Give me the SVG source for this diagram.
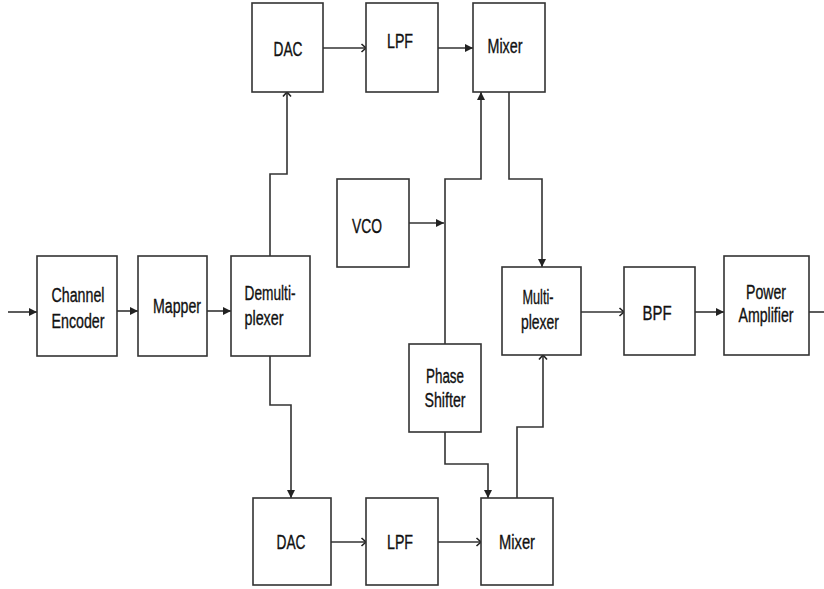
<svg xmlns="http://www.w3.org/2000/svg" width="824" height="589" viewBox="0 0 824 589">
<style>
.box{fill:#fff;stroke:#333;stroke-width:1.6}
.lbl{font-family:"Liberation Sans",Arial,sans-serif;font-size:20px;fill:#111;stroke:#111;stroke-width:0.35;text-anchor:middle}
.w{fill:none;stroke:#333;stroke-width:1.6}
</style>
<defs>
<marker id="af" markerUnits="userSpaceOnUse" markerWidth="10" markerHeight="10" refX="9" refY="5" orient="auto">
<path d="M1,1 L9,5 L1,9 Z" fill="#222"/>
</marker>
<marker id="ao" markerUnits="userSpaceOnUse" markerWidth="10" markerHeight="10" refX="8.5" refY="5" orient="auto">
<path d="M4,1 L8.5,5 L4,9" fill="none" stroke="#222" stroke-width="1.6"/>
</marker>
</defs>
<rect width="824" height="589" fill="#fff"/>
<g id="connectors">
<path class="w" d="M8,312 H37" marker-end="url(#af)"/>
<path class="w" d="M117,311 H138" marker-end="url(#af)"/>
<path class="w" d="M207,311 H231" marker-end="url(#af)"/>
<path class="w" d="M270,256 V174 H287 V92" marker-end="url(#ao)"/>
<path class="w" d="M270,356 V405 H291 V498" marker-end="url(#af)"/>
<path class="w" d="M323,48 H366" marker-end="url(#ao)"/>
<path class="w" d="M438,48 H473" marker-end="url(#af)"/>
<path class="w" d="M409,223 H444" marker-end="url(#af)"/>
<path class="w" d="M445,344 V179 H481 V92" marker-end="url(#af)"/>
<path class="w" d="M509,92 V179 H542 V267" marker-end="url(#af)"/>
<path class="w" d="M445,432 V464 H488 V498" marker-end="url(#af)"/>
<path class="w" d="M517,498 V427 H543 V355" marker-end="url(#ao)"/>
<path class="w" d="M581,312 H624" marker-end="url(#ao)"/>
<path class="w" d="M695,312 H724" marker-end="url(#af)"/>
<path class="w" d="M809,312 H824"/>
<path class="w" d="M331,542 H366" marker-end="url(#ao)"/>
<path class="w" d="M438,542 H481" marker-end="url(#ao)"/>
</g>
<g id="channel-encoder"><rect class="box" x="37" y="256" width="80" height="100"/>
<text class="lbl" x="78" y="302" textLength="53" lengthAdjust="spacingAndGlyphs">Channel</text>
<text class="lbl" x="78" y="328" textLength="53" lengthAdjust="spacingAndGlyphs">Encoder</text></g>
<g id="mapper"><rect class="box" x="138" y="256" width="69" height="100"/>
<text class="lbl" x="177" y="313" textLength="48" lengthAdjust="spacingAndGlyphs">Mapper</text></g>
<g id="demux"><rect class="box" x="231" y="256" width="79" height="100"/>
<text class="lbl" x="270" y="300" textLength="51" lengthAdjust="spacingAndGlyphs">Demulti-</text>
<text class="lbl" x="264" y="325" textLength="39" lengthAdjust="spacingAndGlyphs">plexer</text></g>
<g id="dac-top"><rect class="box" x="252" y="3" width="71" height="89"/>
<text class="lbl" x="288" y="56" textLength="29" lengthAdjust="spacingAndGlyphs">DAC</text></g>
<g id="lpf-top"><rect class="box" x="366" y="3" width="72" height="89"/>
<text class="lbl" x="400" y="48" textLength="26" lengthAdjust="spacingAndGlyphs">LPF</text></g>
<g id="mixer-top"><rect class="box" x="473" y="3" width="72" height="89"/>
<text class="lbl" x="505" y="53" textLength="35" lengthAdjust="spacingAndGlyphs">Mixer</text></g>
<g id="vco"><rect class="box" x="337" y="179" width="72" height="88"/>
<text class="lbl" x="367" y="233" textLength="30" lengthAdjust="spacingAndGlyphs">VCO</text></g>
<g id="mux"><rect class="box" x="502" y="267" width="79" height="88"/>
<text class="lbl" x="538" y="304" textLength="31" lengthAdjust="spacingAndGlyphs">Multi-</text>
<text class="lbl" x="540" y="329" textLength="38" lengthAdjust="spacingAndGlyphs">plexer</text></g>
<g id="phase-shifter"><rect class="box" x="409" y="344" width="72" height="88"/>
<text class="lbl" x="445" y="383" textLength="38" lengthAdjust="spacingAndGlyphs">Phase</text>
<text class="lbl" x="445" y="407" textLength="41" lengthAdjust="spacingAndGlyphs">Shifter</text></g>
<g id="bpf"><rect class="box" x="624" y="267" width="71" height="88"/>
<text class="lbl" x="657" y="320" textLength="29" lengthAdjust="spacingAndGlyphs">BPF</text></g>
<g id="power-amp"><rect class="box" x="724" y="256" width="85" height="99"/>
<text class="lbl" x="766" y="299" textLength="40" lengthAdjust="spacingAndGlyphs">Power</text>
<text class="lbl" x="766" y="322" textLength="55" lengthAdjust="spacingAndGlyphs">Amplifier</text></g>
<g id="dac-bottom"><rect class="box" x="253" y="498" width="78" height="87"/>
<text class="lbl" x="291" y="549" textLength="29" lengthAdjust="spacingAndGlyphs">DAC</text></g>
<g id="lpf-bottom"><rect class="box" x="366" y="498" width="72" height="87"/>
<text class="lbl" x="400" y="549" textLength="26" lengthAdjust="spacingAndGlyphs">LPF</text></g>
<g id="mixer-bottom"><rect class="box" x="481" y="498" width="72" height="87"/>
<text class="lbl" x="517" y="549" textLength="36" lengthAdjust="spacingAndGlyphs">Mixer</text></g>
</svg>
